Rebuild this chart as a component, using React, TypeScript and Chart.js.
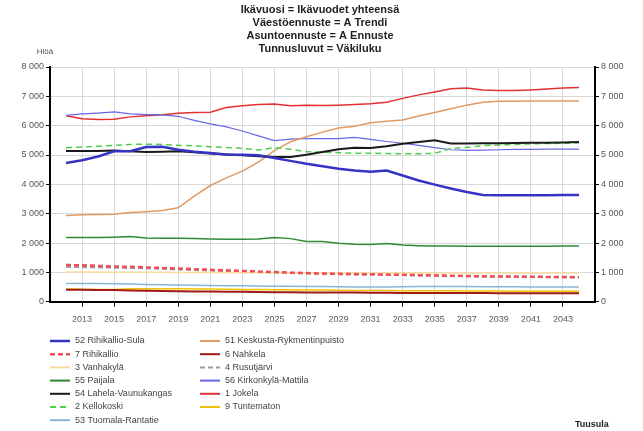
import React, { useEffect, useRef } from 'react';
import { Chart, registerables } from 'chart.js';

Chart.register(...registerables);

const years = [
  2012, 2013, 2014, 2015, 2016, 2017, 2018, 2019, 2020, 2021, 2022,
  2023, 2024, 2025, 2026, 2027, 2028, 2029, 2030, 2031, 2032, 2033,
  2034, 2035, 2036, 2037, 2038, 2039, 2040, 2041, 2042, 2043, 2044,
];
const xTickYears = [2013, 2015, 2017, 2019, 2021, 2023, 2025, 2027, 2029, 2031, 2033, 2035, 2037, 2039, 2041, 2043];

const titleLines = [
  'Ikävuosi = Ikävuodet yhteensä',
  'Väestöennuste = A Trendi',
  'Asuntoennuste = A Ennuste',
  'Tunnusluvut = Väkiluku',
];
const yUnit = 'Hlöä';
const footer = 'Tuusula';

// 52 Rihikallio-Sula
const rihikallioSula = [4730, 4820, 4950, 5130, 5130, 5270, 5280, 5180, 5110, 5070, 5020, 5010, 4990, 4900, 4800, 4700, 4620, 4530, 4470, 4430, 4470, 4300, 4130, 3990, 3860, 3740, 3640, 3630, 3630, 3630, 3630, 3640, 3640];
// 7 Rihikallio
const rihikallio = [1250, 1240, 1220, 1200, 1190, 1170, 1150, 1130, 1110, 1090, 1070, 1050, 1030, 1010, 990, 975, 960, 950, 940, 935, 925, 915, 905, 895, 885, 875, 865, 860, 855, 850, 845, 840, 835];
// 3 Vanhakylä
const vanhakyla = [1010, 1010, 1005, 1005, 1000, 1000, 1000, 995, 995, 995, 990, 990, 990, 990, 985, 985, 985, 985, 985, 980, 980, 980, 980, 980, 980, 980, 980, 975, 975, 975, 975, 975, 975];
// 55 Paijala
const paijala = [2190, 2190, 2190, 2200, 2220, 2170, 2160, 2160, 2150, 2140, 2130, 2130, 2140, 2190, 2150, 2050, 2050, 1990, 1960, 1950, 1980, 1930, 1910, 1900, 1900, 1890, 1890, 1890, 1890, 1890, 1890, 1900, 1900];
// 54 Lahela-Vaunukangas
const lahela = [5140, 5140, 5140, 5150, 5130, 5100, 5110, 5130, 5090, 5050, 5020, 4990, 4960, 4930, 4930, 5010, 5100, 5200, 5250, 5240, 5300, 5380, 5440, 5500, 5390, 5390, 5400, 5400, 5410, 5420, 5420, 5430, 5440];
// 2 Kellokoski
const kellokoski = [5250, 5270, 5300, 5330, 5360, 5370, 5360, 5330, 5310, 5280, 5260, 5230, 5170, 5250, 5200, 5110, 5100, 5080, 5060, 5060, 5050, 5040, 5040, 5060, 5220, 5260, 5320, 5340, 5360, 5380, 5390, 5400, 5410];
// 53 Tuomala-Rantatie
const tuomala = [620, 620, 620, 615, 600, 590, 580, 570, 560, 550, 545, 540, 535, 530, 525, 520, 515, 510, 505, 500, 500, 510, 515, 515, 515, 515, 510, 510, 510, 505, 505, 505, 505];
// 51 Keskusta-Rykmentinpuisto
const keskusta = [2940, 2960, 2970, 2980, 3040, 3070, 3110, 3200, 3600, 3960, 4220, 4450, 4760, 5150, 5450, 5620, 5780, 5920, 5980, 6100, 6150, 6190, 6330, 6450, 6580, 6700, 6800, 6830, 6830, 6840, 6840, 6840, 6840];
// 6 Nahkela
const nahkela = [410, 405, 400, 395, 385, 375, 365, 355, 350, 345, 340, 335, 330, 325, 320, 315, 315, 310, 310, 305, 305, 300, 300, 300, 295, 295, 295, 290, 290, 290, 290, 290, 290];
// 4 Rusutjärvi
const rusutjarvi = [1190, 1180, 1170, 1160, 1150, 1140, 1120, 1100, 1080, 1060, 1040, 1020, 1010, 995, 980, 965, 950, 940, 930, 925, 920, 910, 900, 890, 880, 870, 860, 855, 850, 845, 840, 835, 830];
// 56 Kirkonkylä-Mattila
const kirkonkyla = [6350, 6400, 6430, 6470, 6400, 6380, 6370, 6320, 6180, 6060, 5960, 5820, 5650, 5490, 5540, 5560, 5560, 5560, 5600, 5530, 5460, 5400, 5330, 5250, 5180, 5160, 5170, 5180, 5190, 5190, 5200, 5200, 5200];
// 1 Jokela
const jokela = [6340, 6240, 6210, 6220, 6300, 6340, 6370, 6420, 6450, 6460, 6620, 6680, 6720, 6740, 6680, 6700, 6690, 6700, 6720, 6750, 6800, 6930, 7050, 7150, 7260, 7280, 7220, 7200, 7200, 7220, 7250, 7280, 7300];
// 9 Tuntematon
const tuntematon = [430, 425, 420, 420, 440, 445, 445, 440, 435, 430, 425, 420, 415, 410, 405, 400, 395, 390, 385, 380, 380, 375, 375, 370, 370, 365, 365, 365, 360, 360, 360, 360, 360];

const FONT = "'Liberation Sans', Arial, sans-serif";

export default function App() {
  const ref = useRef<HTMLCanvasElement>(null);

  useEffect(() => {
    document.body.style.margin = '0';
    const canvas = ref.current;
    if (!canvas) return;

    const mk = (label: string, data: number[], color: string, width: number, dash: number[] = []) => ({
      label,
      data: data.map((v, i) => ({ x: years[i], y: v })),
      borderColor: color,
      backgroundColor: color,
      borderWidth: width,
      borderDash: dash,
      pointRadius: 0,
      pointHoverRadius: 0,
      fill: false,
      tension: 0,
    });

    const datasets = [
      mk('52 Rihikallio-Sula', rihikallioSula, '#3434c4', 2.5),
      mk('7 Rihikallio', rihikallio, '#ee4e5a', 2.5, [5, 3]),
      mk('3 Vanhakylä', vanhakyla, '#fcd9a0', 1.5),
      mk('55 Paijala', paijala, '#2e8a36', 1.5),
      mk('54 Lahela-Vaunukangas', lahela, '#1a1a1a', 2),
      mk('2 Kellokoski', kellokoski, '#4fcf4f', 1.5, [6, 4]),
      mk('53 Tuomala-Rantatie', tuomala, '#8ab6d6', 1.5),
      mk('51 Keskusta-Rykmentinpuisto', keskusta, '#e09a64', 1.5),
      mk('6 Nahkela', nahkela, '#a01818', 2),
      mk('4 Rusutjärvi', rusutjarvi, '#9a9a9a', 2, [5, 3]),
      mk('56 Kirkonkylä-Mattila', kirkonkyla, '#6868e6', 1.2),
      mk('1 Jokela', jokela, '#e53030', 1.5),
      mk('9 Tuntematon', tuntematon, '#f2c200', 1.5),
    ];

    const fmt = (v: number) => String(v).replace(/\B(?=(\d{3})+(?!\d))/g, ' ');

    const overlay = {
      id: 'overlay',
      afterDraw(chart: any) {
        const c = chart.ctx as CanvasRenderingContext2D;
        c.save();
        // title
        c.fillStyle = '#222';
        c.font = `bold 11px ${FONT}`;
        c.textAlign = 'center';
        c.textBaseline = 'middle';
        titleLines.forEach((t, i) => c.fillText(t, 320, 10 + i * 13));
        // unit
        c.font = `8px ${FONT}`;
        c.fillStyle = '#555';
        c.fillText(yUnit, 45, 52);
        // legend
        const ds = chart.data.datasets;
        const rows = 7;
        ds.forEach((d: any, i: number) => {
          const col = Math.floor(i / rows);
          const row = i % rows;
          const lx = col === 0 ? 50 : 200;
          const y = 341 + row * 13.2;
          c.beginPath();
          c.strokeStyle = d.borderColor;
          c.lineWidth = Math.max(2, d.borderWidth);
          c.setLineDash(d.borderDash || []);
          c.moveTo(lx, y);
          c.lineTo(lx + 20, y);
          c.stroke();
          c.setLineDash([]);
          c.fillStyle = '#444';
          c.font = `9px ${FONT}`;
          c.textAlign = 'left';
          c.fillText(d.label, lx + 25, y);
        });
        // footer
        c.font = `bold 9px ${FONT}`;
        c.fillStyle = '#222';
        c.textAlign = 'left';
        c.fillText(footer, 575, 425);
        c.restore();
      },
    };

    const chart = new Chart(canvas, {
      type: 'line',
      data: { datasets: datasets as any },
      options: {
        responsive: false,
        animation: false,
        devicePixelRatio: 1,
        layout: { padding: { top: 67, bottom: 109.3, left: 0, right: 0 } },
        plugins: {
          legend: { display: false },
          title: { display: false },
          tooltip: { enabled: false },
        },
        scales: {
          x: {
            type: 'linear',
            min: 2011,
            max: 2045,
            afterBuildTicks: (axis: any) => {
              axis.ticks = xTickYears.map((v) => ({ value: v }));
            },
            afterFit: (axis: any) => {
              axis.height = 20;
            },
            ticks: {
              callback: (v: any) => String(v),
              autoSkip: false,
              maxRotation: 0,
              font: { size: 9, family: FONT },
              color: '#555',
              padding: 7,
            },
            grid: { color: '#d9d9d9', tickColor: '#000', tickLength: 5, lineWidth: 1 },
            border: { color: '#000', width: 2 },
          },
          y: {
            position: 'left',
            min: 0,
            max: 8000,
            afterFit: (axis: any) => {
              axis.width = 50;
            },
            ticks: {
              stepSize: 1000,
              callback: (v: any) => fmt(Number(v)),
              font: { size: 9, family: FONT },
              color: '#555',
              padding: 2,
            },
            grid: { color: '#d9d9d9', tickColor: '#000', tickLength: 4, lineWidth: 1 },
            border: { color: '#000', width: 2 },
          },
          y2: {
            position: 'right',
            min: 0,
            max: 8000,
            afterFit: (axis: any) => {
              axis.width = 48;
            },
            ticks: {
              stepSize: 1000,
              callback: (v: any) => fmt(Number(v)),
              font: { size: 9, family: FONT },
              color: '#555',
              padding: 2,
            },
            grid: { drawOnChartArea: false, tickColor: '#000', tickLength: 4 },
            border: { color: '#000', width: 2 },
          },
        },
      },
      plugins: [overlay],
    });

    return () => chart.destroy();
  }, []);

  return <canvas ref={ref} width={643} height={431} style={{ display: 'block' }} />;
}
